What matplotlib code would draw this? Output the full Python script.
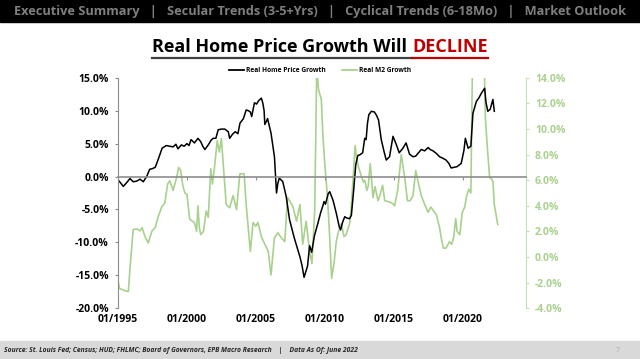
import matplotlib
matplotlib.use("Agg")
import matplotlib.pyplot as plt
from matplotlib.lines import Line2D

# decimal year / value pairs
hp_year = [1995.0, 1995.2, 1995.38, 1995.6, 1995.87, 1996.1, 1996.35, 1996.6, 1996.83, 1997.08,
           1997.3, 1997.5, 1997.7, 1997.9, 1998.2, 1998.5, 1998.75, 1999.0, 1999.2, 1999.35,
           1999.6, 1999.8, 2000.0, 2000.15, 2000.3, 2000.55, 2000.8, 2001.0, 2001.15, 2001.3,
           2001.55, 2001.75, 2001.9, 2002.1, 2002.27, 2002.5, 2002.75, 2003.0, 2003.1, 2003.3,
           2003.5, 2003.7, 2003.85, 2004.1, 2004.3, 2004.45, 2004.6, 2004.7, 2004.9, 2005.05,
           2005.2, 2005.4, 2005.5, 2005.6, 2005.65, 2005.75, 2005.85, 2006.1, 2006.35, 2006.5,
           2006.6, 2006.7, 2006.95, 2007.2, 2007.45, 2007.8, 2008.0, 2008.2, 2008.35, 2008.5,
           2008.75, 2008.9, 2009.05, 2009.25, 2009.5, 2009.7, 2009.87, 2009.95, 2010.05, 2010.25,
           2010.36, 2010.6, 2010.84, 2011.05, 2011.15, 2011.3, 2011.45, 2011.6, 2011.8, 2011.93,
           2012.1, 2012.25, 2012.4, 2012.55, 2012.75, 2012.9, 2013.0, 2013.1, 2013.2, 2013.38,
           2013.6, 2013.75, 2013.9, 2014.1, 2014.3, 2014.46, 2014.7, 2014.95, 2015.2, 2015.4,
           2015.67, 2015.9, 2016.15, 2016.4, 2016.6, 2016.8, 2017.0, 2017.25, 2017.5, 2017.65,
           2017.85, 2018.1, 2018.33, 2018.55, 2018.8, 2019.0, 2019.17, 2019.4, 2019.6, 2019.9,
           2020.1, 2020.2, 2020.4, 2020.6, 2020.75, 2021.0, 2021.2, 2021.35, 2021.6, 2021.7,
           2021.83, 2022.0, 2022.2, 2022.3]
hp_growth = [-0.5, -1.0, -1.5, -1.0, -0.3, -0.8, -0.7, -0.4, -0.8, 0.0,
             1.1, 1.2, 1.4, 2.5, 4.3, 4.7, 4.6, 4.5, 4.9, 4.2,
             4.8, 4.6, 5.0, 4.7, 5.6, 5.1, 5.8, 5.3, 4.6, 4.1,
             4.8, 5.5, 5.8, 5.8, 7.1, 7.2, 7.2, 6.8, 5.8, 6.4,
             6.8, 6.5, 8.1, 8.8, 10.1, 10.0, 9.8, 9.1, 11.2, 11.0,
             11.5, 11.9, 11.2, 10.0, 7.9, 8.3, 8.8, 6.6, 3.0, -2.5,
             -1.0, -0.25, -0.75, -3.0, -6.6, -9.4, -10.8, -12.2, -13.5, -15.3,
             -13.6, -10.5, -11.5, -9.0, -7.1, -5.5, -4.4, -3.8, -4.2, -2.6,
             -2.3, -3.6, -5.6, -7.6, -8.1, -6.9, -6.1, -6.3, -6.4, -5.9,
             -2.0, 1.8, 3.2, 3.3, 3.6, 5.8, 5.6, 8.1, 9.4, 9.9,
             9.8, 9.3, 8.6, 5.6, 3.8, 2.5, 3.0, 6.1, 4.8, 3.6,
             4.3, 5.1, 3.4, 3.0, 3.1, 3.6, 4.1, 3.9, 4.4, 4.1,
             3.9, 3.5, 3.0, 2.8, 2.5, 2.0, 1.3, 1.4, 1.5, 2.0,
             4.0, 5.8, 4.3, 4.6, 9.6, 11.4, 12.0, 12.6, 13.4, 11.2,
             9.9, 10.2, 11.7, 9.9]

m2_year = [1995.0, 1995.1, 1995.45, 1995.75, 1995.87, 1996.1, 1996.35, 1996.6, 1996.75, 1996.96,
           1997.2, 1997.45, 1997.7, 1997.9, 1998.17, 1998.4, 1998.6, 1998.75, 1999.0, 1999.25,
           1999.4, 1999.55, 1999.7, 1999.85, 2000.0, 2000.2, 2000.4, 2000.55, 2000.7, 2000.8,
           2000.9, 2001.0, 2001.2, 2001.4, 2001.55, 2001.73, 2001.85, 2002.0, 2002.2, 2002.35,
           2002.5, 2002.65, 2002.85, 2003.1, 2003.35, 2003.6, 2003.84, 2004.15, 2004.3, 2004.45,
           2004.6, 2004.8, 2005.0, 2005.15, 2005.4, 2005.65, 2005.9, 2006.1, 2006.35, 2006.6,
           2006.85, 2007.1, 2007.3, 2007.45, 2007.7, 2007.95, 2008.2, 2008.4, 2008.65, 2008.9,
           2009.07, 2009.27, 2009.42, 2009.55, 2009.75, 2009.87, 2010.0, 2010.2, 2010.36, 2010.5,
           2010.67, 2010.84, 2011.0, 2011.2, 2011.4, 2011.55, 2011.8, 2011.9, 2012.05, 2012.2,
           2012.3, 2012.45, 2012.6, 2012.8, 2012.9, 2013.05, 2013.15, 2013.3, 2013.5, 2013.65,
           2013.86, 2014.0, 2014.2, 2014.35, 2014.7, 2014.9, 2015.07, 2015.3, 2015.55, 2015.8,
           2016.0, 2016.2, 2016.4, 2016.6, 2016.76, 2017.0, 2017.25, 2017.5, 2017.7, 2017.9,
           2018.1, 2018.33, 2018.45, 2018.6, 2018.8, 2019.05, 2019.2, 2019.35, 2019.5, 2019.6,
           2019.8, 2019.97, 2020.15, 2020.3, 2020.45, 2020.6, 2020.75, 2020.95, 2021.2, 2021.5,
           2021.65, 2021.8, 2021.96, 2022.1, 2022.2, 2022.3, 2022.55]
m2_growth = [-1.8, -2.45, -2.6, -2.7, -0.9, 2.15, 2.2, 2.05, 2.3, 1.6,
             1.1, 2.0, 2.3, 3.1, 3.9, 4.25, 5.7, 5.95, 5.2, 6.2,
             7.0, 6.75, 5.6, 5.0, 4.9, 2.95, 2.8, 2.7, 2.0, 4.0,
             2.3, 1.75, 2.0, 3.6, 3.1, 6.9, 5.7, 7.0, 9.1, 8.2,
             9.25, 7.0, 4.1, 3.85, 4.8, 3.7, 6.5, 6.5, 4.1, 2.3,
             0.45, 2.7, 2.4, 2.7, 1.6, 1.0, 0.45, -1.4, 1.5, 1.9,
             1.5, 1.2, 4.65, 4.4, 3.9, 2.8, 4.1, 1.0, 2.8, 0.45,
             -0.5, 3.6, 14.8, 13.05, 12.3, 9.4, 7.3, 4.65, 1.5, -1.65,
             -0.5, 1.25, 2.0, 2.6, 1.6, 1.75, 2.6, 3.6, 6.0, 8.7,
             7.8, 7.0, 6.5, 5.85, 6.0, 5.2, 5.5, 7.3, 4.65, 5.5,
             4.4, 4.8, 5.6, 4.4, 4.3, 4.2, 4.0, 5.3, 8.0, 6.2,
             4.4, 4.4, 4.8, 6.75, 5.95, 4.8, 4.1, 3.5, 3.9, 3.6,
             3.3, 2.3, 1.5, 0.7, 0.7, 1.2, 1.0, 1.5, 3.0, 2.0,
             1.75, 3.45, 3.9, 4.8, 5.3, 5.0, 18.0, 24.0, 25.0, 19.0,
             10.9, 8.5, 6.2, 6.1, 5.9, 4.1, 2.55]

x_ticks = [1995, 2000, 2005, 2010, 2015, 2020]
x_labels = ["01/1995", "01/2000", "01/2005", "01/2010", "01/2015", "01/2020"]
left_ticks = [15, 10, 5, 0, -5, -10, -15, -20]
right_ticks = [14, 12, 10, 8, 6, 4, 2, 0, -2, -4]

GREEN = "#a9d18e"
GREEN_SPINE = "#c5e0b4"
GRAY = "#8c8c8c"
RED = "#c00000"

plt.rcParams["font.family"] = ["Open Sans", "DejaVu Sans"]

fig = plt.figure(figsize=(6.4, 3.59), dpi=100)

# header band
fig.patches.append(plt.Rectangle((0, 1 - 22 / 359), 1, 22 / 359, transform=fig.transFigure,
                                 color="black", zorder=0))
fig.text(0.5, 1 - 11 / 359,
         "Executive Summary   |   Secular Trends (3-5+Yrs)   |   Cyclical Trends (6-18Mo)   |   Market Outlook",
         ha="center", va="center", color="#7f7f7f", fontsize=9.2, fontweight="bold")

# footer band
fig.patches.append(plt.Rectangle((0, 0), 1, 18 / 359, transform=fig.transFigure,
                                 color="#d9d9d9", zorder=0))
fig.text(0.006, 9 / 359,
         "Source: St. Louis Fed; Census; HUD; FHLMC; Board of Governors, EPB Macro Research    |    Data As Of: June 2022",
         ha="left", va="center", fontsize=4.9, fontweight="bold", style="italic", color="#262626")
fig.text(0.965, 9 / 359, "7", ha="center", va="center", fontsize=4.8, color="#a6a6a6")

ax = fig.add_axes([118 / 640, 1 - 308.3 / 359, (526 - 118) / 640, (308.3 - 77.7) / 359])
ax2 = ax.twinx()

ax2.plot(m2_year, m2_growth, color=GREEN, lw=1.2, label="Real M2 Growth")
ax.plot(hp_year, hp_growth, color="black", lw=1.1, label="Real Home Price Growth")

ax.set_zorder(ax2.get_zorder() + 1)
ax.patch.set_visible(False)

ax.set_xlim(1995, 2024.6)
ax.set_ylim(-20, 15)
ax2.set_ylim(-4, 14)

ax.set_yticks(left_ticks)
ax.set_yticklabels(["%.1f%%" % v for v in left_ticks])
ax2.set_yticks(right_ticks)
ax2.set_yticklabels(["%.1f%%" % v for v in right_ticks])

for a in (ax, ax2):
    a.spines["top"].set_visible(False)
ax.spines["right"].set_visible(False)
ax2.spines["left"].set_visible(False)
ax2.spines["bottom"].set_visible(False)
ax.spines["left"].set_color(GRAY)
ax2.spines["right"].set_color(GREEN_SPINE)

# x axis crosses at zero
ax.spines["bottom"].set_position(("data", 0))
ax.spines["bottom"].set_color(GRAY)
ax.spines["bottom"].set_linewidth(1.2)
ax.set_xticks(x_ticks)
ax.tick_params(axis="x", direction="out", length=2.5, color=GRAY, labelbottom=False)

sec = ax.secondary_xaxis(0.0)
sec.set_xticks(x_ticks)
sec.set_xticklabels(x_labels)
sec.spines["bottom"].set_visible(False)
sec.tick_params(axis="x", length=0, pad=4, labelsize=7.5)
for t in sec.get_xticklabels():
    t.set_fontweight("bold")

ax.tick_params(axis="y", length=2.5, color=GRAY, labelsize=7.5, pad=4)
for t in ax.get_yticklabels():
    t.set_fontweight("bold")
ax2.tick_params(axis="y", length=2.5, color=GREEN_SPINE, labelsize=7.5, labelcolor=GREEN, pad=4)
for t in ax2.get_yticklabels():
    t.set_fontweight("bold")

handles = [Line2D([], [], color="black", lw=1.3), Line2D([], [], color=GREEN, lw=1.3)]
leg = fig.legend(handles, ["Real Home Price Growth", "Real M2 Growth"], loc="center",
                 bbox_to_anchor=(0.5, 1 - 71 / 359), ncol=2, frameon=False,
                 prop={"size": 4.8, "weight": "bold"}, handlelength=2.2, handletextpad=0.3,
                 columnspacing=2.5)

# title with underline
title_y = 1 - 47 / 359
t1 = fig.text(0, title_y, "Real Home Price Growth Will ", ha="left", va="center",
              fontsize=13, fontweight="bold", color="black")
t2 = fig.text(0, title_y, "DECLINE", ha="left", va="center",
              fontsize=13, fontweight="bold", color=RED)
fig.canvas.draw()
r = fig.canvas.get_renderer()
w1 = t1.get_window_extent(r).width / fig.bbox.width
w2 = t2.get_window_extent(r).width / fig.bbox.width
x0 = 0.5 - (w1 + w2) / 2
t1.set_x(x0)
t2.set_x(x0 + w1)
uy = 1 - 58 / 359
fig.add_artist(Line2D([x0, x0 + w1], [uy, uy], transform=fig.transFigure, color="#404040", lw=1.6))
fig.add_artist(Line2D([x0 + w1, x0 + w1 + w2], [uy, uy], transform=fig.transFigure, color=RED, lw=1.6))

fig.savefig("out.png", dpi=100)
